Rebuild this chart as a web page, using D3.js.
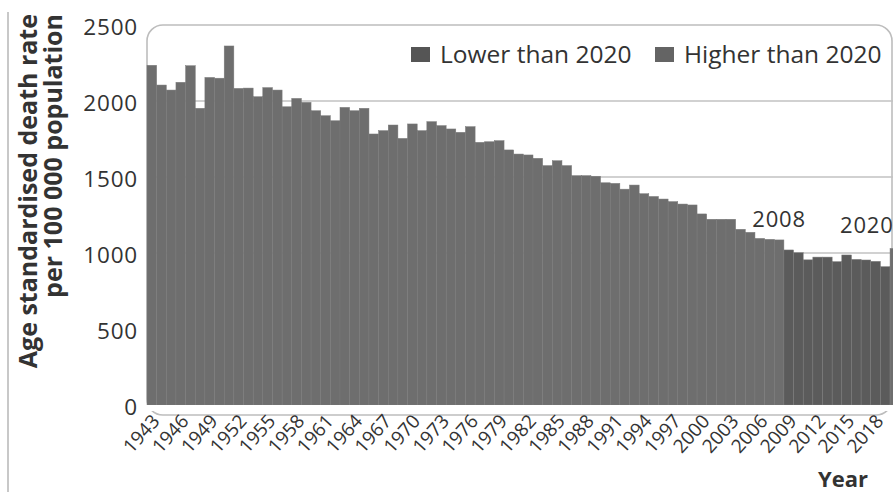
<!DOCTYPE html>
<html>
<head>
<meta charset="utf-8">
<script src="https://cdn.jsdelivr.net/npm/d3@7"></script>
<style>
html,body{margin:0;padding:0;background:#fff;}
svg{display:block;font-family:"Open Sans",sans-serif;}
</style>
</head>
<body>
<svg id="chart" width="893" height="492"></svg>
<script>
const years = d3.range(1943, 2021);
const rates = [
 2235,2105,2072,2123,2232,1952,2155,2150,2362,2083,
 2085,2028,2088,2072,1962,2017,1991,1936,1903,1870,
 1958,1936,1952,1783,1805,1842,1754,1849,1805,1864,
 1838,1816,1794,1831,1728,1732,1739,1678,1651,1645,
 1623,1575,1607,1575,1509,1509,1505,1462,1458,1420,
 1447,1390,1372,1355,1338,1322,1316,1257,1222,1222,
 1222,1156,1136,1096,1090,1086,1020,1002,955,973,
 973,943,987,958,954,945,910,1030
];
const yTicks = [0, 500, 1000, 1500, 2000, 2500];
const gridValues = [1000, 1500, 2000];
const xTickYears = d3.range(1943, 2019, 3);
const seriesNames = ["Lower than 2020", "Higher than 2020"];
const annotations = [{label: "2008", year: 2008, value: 1086}, {label: "2020", year: 2020, value: 1030}];

const colors = {"Lower than 2020": "#5b5b5b", "Higher than 2020": "#6e6e6e"};
const ref2020 = rates[years.indexOf(2020)];
const data = years.map((y, i) => ({
  year: y, value: rates[i],
  cat: y === 2020 ? "Higher than 2020" : (rates[i] < ref2020 ? "Lower than 2020" : "Higher than 2020")
}));

const svg = d3.select("#chart");
const left = 147, bw = 9.65;
const x = d3.scaleBand().domain(years).range([left, left + years.length * bw]).padding(0);
const y = d3.scaleLinear().domain([0, 2500]).range([405, 25]);

// left frame line
svg.append("line").attr("x1", 8).attr("x2", 8).attr("y1", 12).attr("y2", 492)
  .attr("stroke", "#c8c8c8").attr("stroke-width", 2);

// plot frame (rounded)
svg.append("rect").attr("x", left).attr("y", y(2500)).attr("width", 892 - left)
  .attr("height", y(0) - y(2500) + 10).attr("rx", 16).attr("ry", 16)
  .attr("fill", "#fff").attr("stroke", "#bdbdbd").attr("stroke-width", 1.6);

// gridlines
svg.append("g").selectAll("line").data(gridValues).join("line")
  .attr("x1", left).attr("x2", 893)
  .attr("y1", d => y(d)).attr("y2", d => y(d))
  .attr("stroke", "#c2c2c2").attr("stroke-width", 1.5);

// bars
svg.append("g").selectAll("rect").data(data).join("rect")
  .attr("x", d => x(d.year)).attr("width", x.bandwidth())
  .attr("y", d => y(d.value)).attr("height", d => y(0) - y(d.value))
  .attr("fill", d => colors[d.cat])
  .attr("stroke", "#7a7a7a").attr("stroke-width", 0.5);

// baseline cover below bars
svg.append("rect").attr("x", left - 2).attr("y", y(0)).attr("width", 893 - left + 2).attr("height", 6).attr("fill", "#fff");

// y axis labels
const yAxis = d3.axisLeft(y).tickValues(yTicks).tickSize(0).tickPadding(0).tickFormat(d3.format("d"));
const gy = svg.append("g").attr("transform", "translate(138,2)").call(yAxis);
gy.select(".domain").remove();
gy.selectAll("text").attr("font-size", 22.5).attr("fill", "#333")
  .attr("font-family", "Open Sans").attr("letter-spacing", "0.8px").attr("dy", "0.34em");

// x axis labels
const xAxis = d3.axisBottom(x).tickValues(xTickYears).tickSize(0).tickPadding(0);
const gx = svg.append("g").attr("transform", `translate(0,${y(0)})`).call(xAxis);
gx.select(".domain").remove();
gx.selectAll("text").attr("font-size", 19).attr("fill", "#333")
  .attr("font-family", "Open Sans")
  .attr("text-anchor", "end").attr("y", 0).attr("dy", 0)
  .attr("transform", "translate(9,17) rotate(-48)");

// axis titles
const yt = svg.append("text").attr("font-weight", "bold").attr("font-size", 25)
  .attr("fill", "#333").attr("text-anchor", "end")
  .attr("transform", "translate(37,14) rotate(-90)");
yt.append("tspan").attr("x", 0).attr("y", 0).text("Age standardised death rate");
yt.append("tspan").attr("x", 0).attr("y", 25).text("per 100 000 population");

svg.append("text").attr("x", 868).attr("y", 487).attr("text-anchor", "end")
  .attr("font-weight", "bold").attr("font-size", 22).attr("fill", "#333").text("Year");

// annotations
svg.append("g").selectAll("text").data(annotations).join("text")
  .attr("x", d => x(d.year) + x.bandwidth() / 2 - (d.year === 2020 ? 28 : 0))
  .attr("y", d => y(d.value) - (d.year === 2020 ? 15 : 13))
  .attr("text-anchor", "middle").attr("font-size", 22).attr("fill", "#333")
  .attr("letter-spacing", "0.8px")
  .text(d => d.label);

// legend
const lg = svg.append("g");
const legX = [411, 655];
seriesNames.forEach((s, i) => {
  lg.append("rect").attr("x", legX[i]).attr("y", 47).attr("width", 19).attr("height", 15)
    .attr("fill", i === 0 ? "#555" : "#646464");
  lg.append("text").attr("x", legX[i] + 29).attr("y", 63).attr("font-size", 24.5)
    .attr("fill", "#333").text(s);
});
</script>
</body>
</html>
